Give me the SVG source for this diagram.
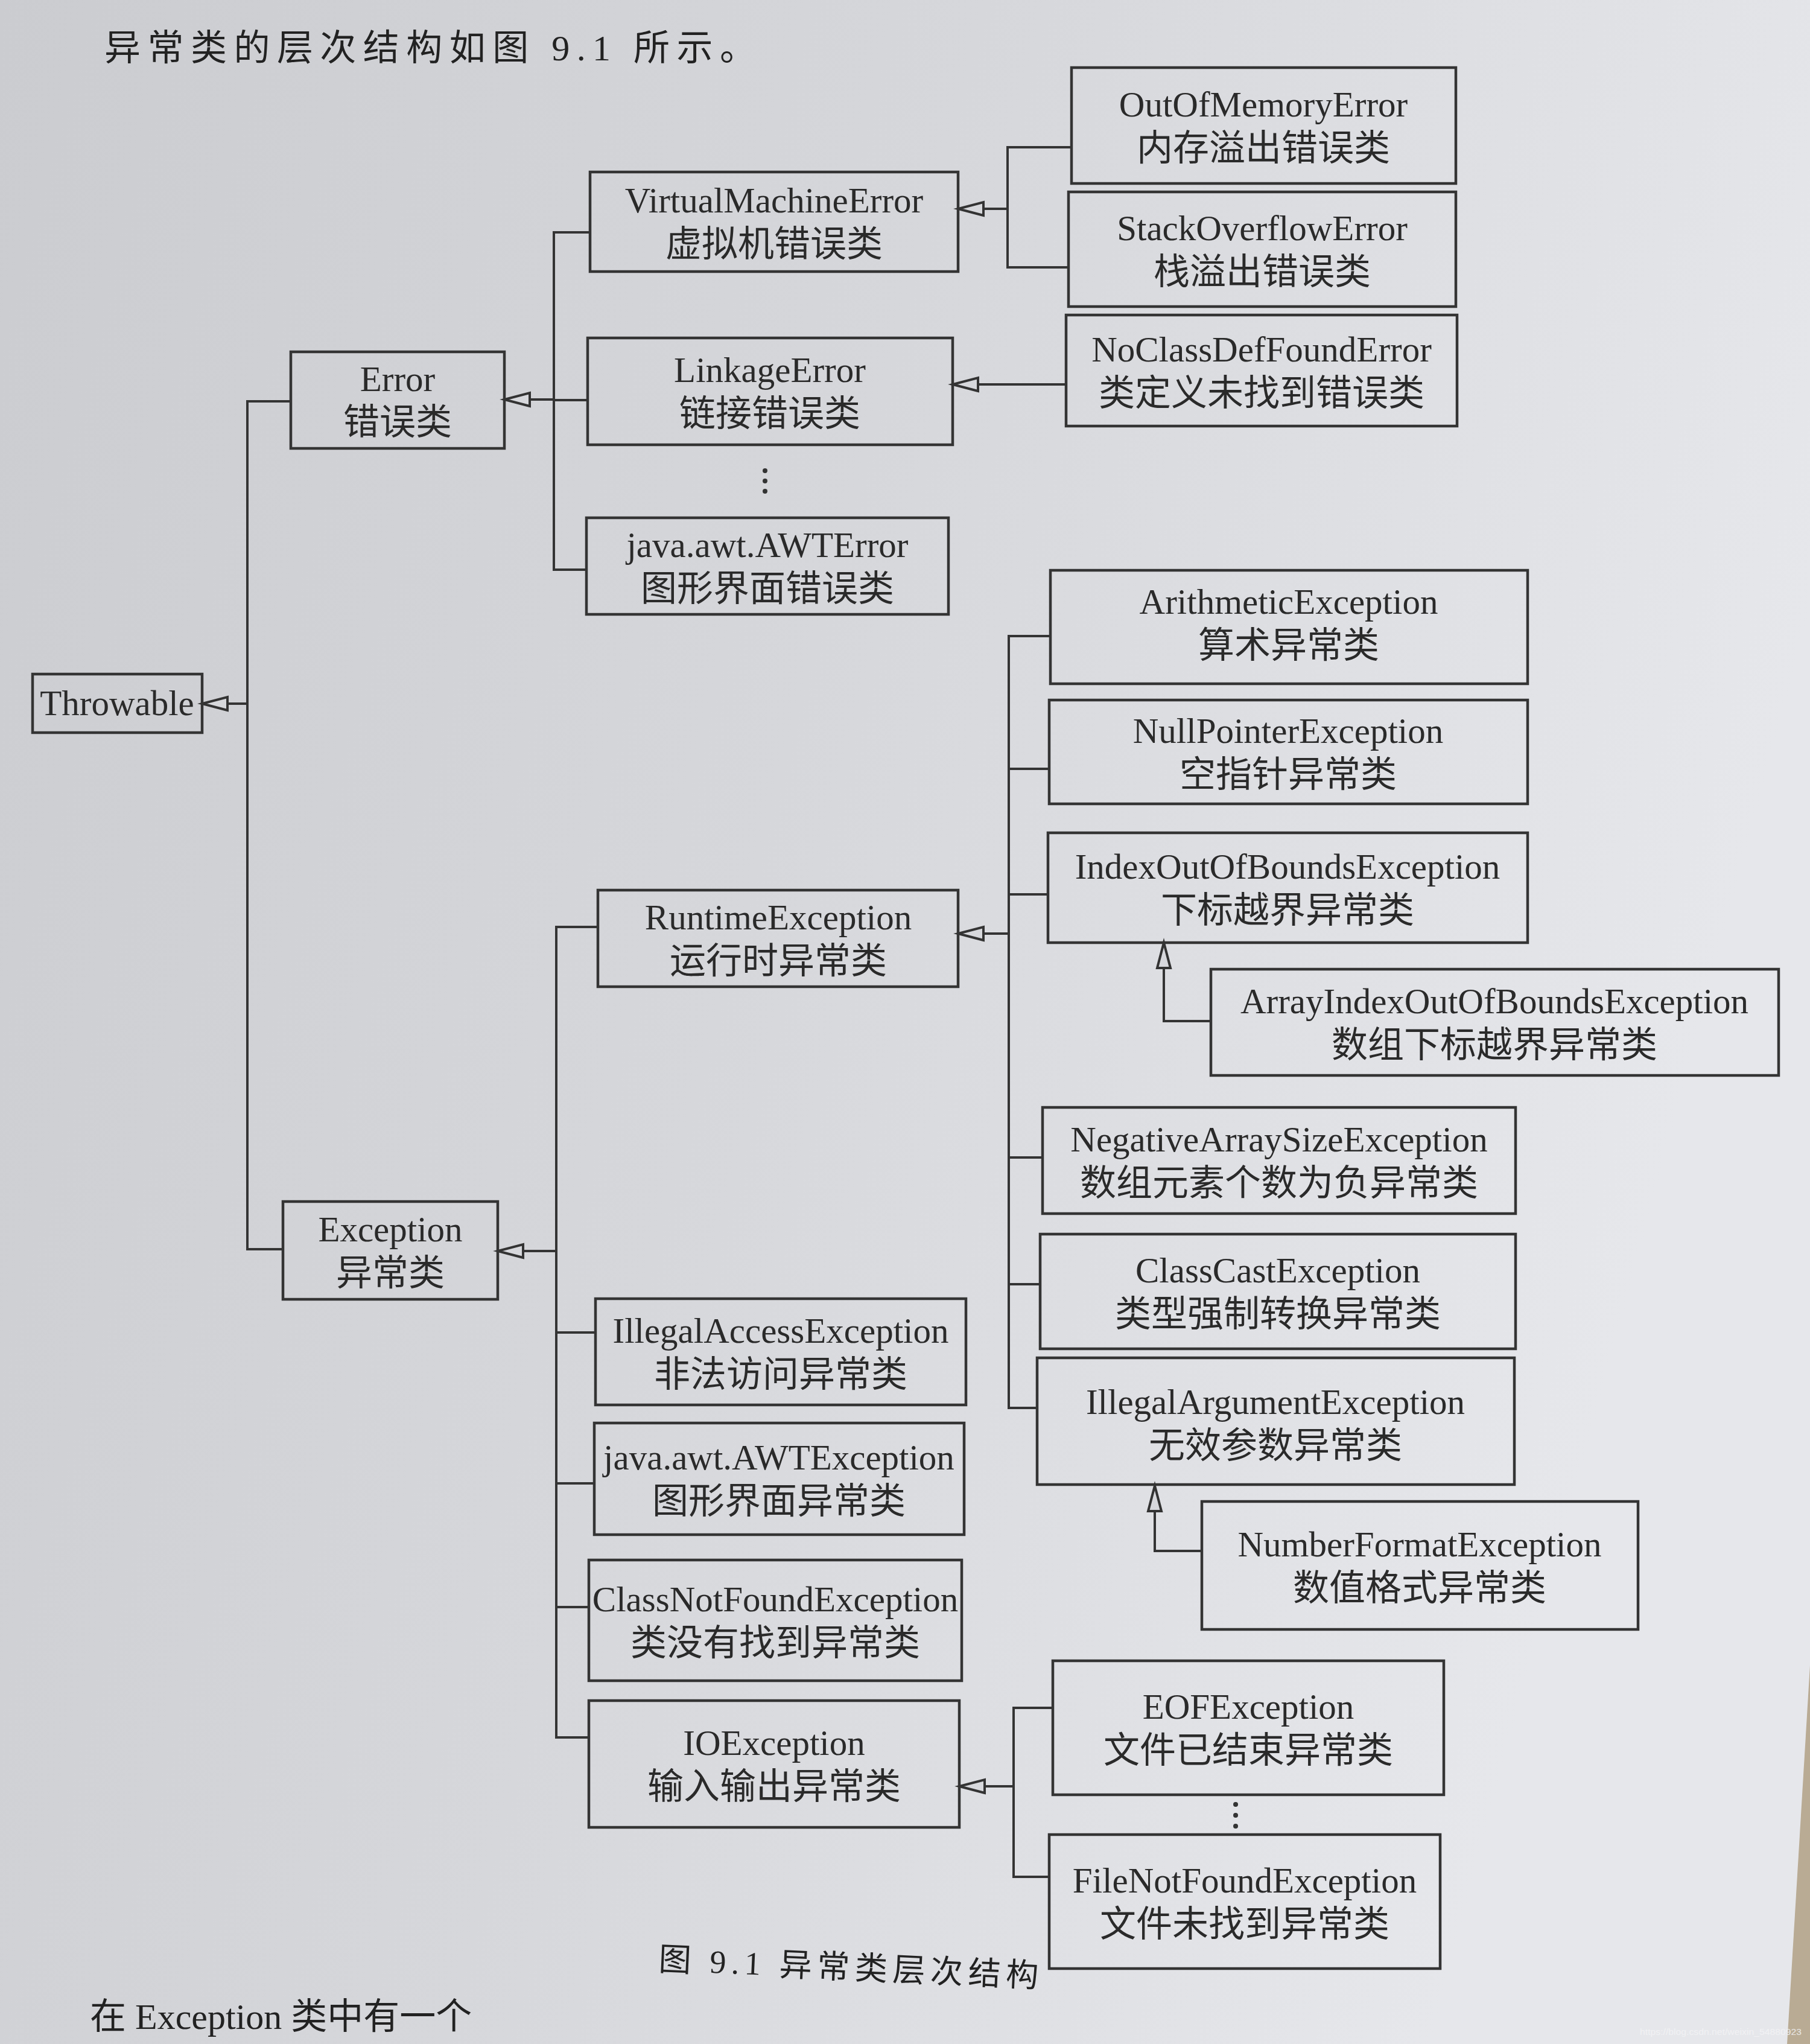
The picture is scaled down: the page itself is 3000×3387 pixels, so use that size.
<svg xmlns="http://www.w3.org/2000/svg" width="3000" height="3387" viewBox="0 0 3000 3387">
<defs>
<linearGradient id="bg" x1="0" y1="0" x2="1" y2="0.3">
<stop offset="0" stop-color="#cbccd0"/>
<stop offset="0.5" stop-color="#d6d7db"/>
<stop offset="1" stop-color="#e6e7eb"/>
</linearGradient>
<marker id="tri" markerWidth="50" markerHeight="30" refX="46" refY="15" orient="auto" markerUnits="userSpaceOnUse" overflow="visible">
<path d="M4,4 L46,15 L4,26 Z" fill="#d7d8dc" stroke="#333" stroke-width="4" stroke-linejoin="miter"/>
</marker>
<style>
.box{fill:none;stroke:#343434;stroke-width:4.5}
.c{fill:none;stroke:#343434;stroke-width:4}
.en{font-family:"Liberation Serif",serif;font-size:59px;text-anchor:middle;fill:#2a2a2a}
.zh{font-family:"Liberation Serif","Noto Sans CJK SC",sans-serif;font-size:60px;text-anchor:middle;fill:#2a2a2a}
.body{font-family:"Liberation Serif","Noto Sans CJK SC",serif;fill:#222}
.dot{fill:#333}
</style>
</defs>
<rect x="0" y="0" width="3000" height="3387" fill="url(#bg)"/>
<polygon points="3000,2760 3000,3387 2962,3387" fill="#b9ab94"/>

<text class="body" x="173" y="100" font-size="60" textLength="1080" lengthAdjust="spacing">异常类的层次结构如图 9.1 所示。</text>

<g id="connectors">
<!-- Throwable -->
<path class="c" d="M482,665 H410 V2070 H469"/>
<path class="c" d="M410,1166 H335" marker-end="url(#tri)"/>
<!-- Error -->
<path class="c" d="M978,385 H918 V944 H972 M918,663 H974"/>
<path class="c" d="M918,662 H836" marker-end="url(#tri)"/>
<!-- VirtualMachineError -->
<path class="c" d="M1776,244 H1670 V443 H1771"/>
<path class="c" d="M1670,346 H1588" marker-end="url(#tri)"/>
<!-- LinkageError -->
<path class="c" d="M1767,637 H1579" marker-end="url(#tri)"/>
<!-- Exception -->
<path class="c" d="M991,1536 H922 V2879 H976 M922,2208 H987 M922,2458 H985 M922,2663 H976"/>
<path class="c" d="M922,2073 H825" marker-end="url(#tri)"/>
<!-- RuntimeException -->
<path class="c" d="M1741,1054 H1672 V2333 H1719 M1672,1274 H1739 M1672,1482 H1737 M1672,1918 H1728 M1672,2128 H1724"/>
<path class="c" d="M1672,1547 H1588" marker-end="url(#tri)"/>
<!-- IndexOutOfBounds -->
<path class="c" d="M2007,1692 H1929 V1562" marker-end="url(#tri)"/>
<!-- IllegalArgument -->
<path class="c" d="M1992,2570 H1914 V2462" marker-end="url(#tri)"/>
<!-- IOException -->
<path class="c" d="M1745,2830 H1680 V3110 H1739"/>
<path class="c" d="M1680,2960 H1590" marker-end="url(#tri)"/>
</g>

<g id="n-throwable"><rect class="box" x="54" y="1117" width="281" height="97"/><text class="en" x="194" y="1185">Throwable</text></g>
<g id="n-error"><rect class="box" x="482" y="583" width="354" height="160"/><text class="en" x="659" y="648">Error</text><text class="zh" x="659" y="720">错误类</text></g>
<g id="n-exception"><rect class="box" x="469" y="1991" width="356" height="162"/><text class="en" x="647" y="2057">Exception</text><text class="zh" x="647" y="2130">异常类</text></g>

<g id="n-vme"><rect class="box" x="978" y="285" width="610" height="165"/><text class="en" x="1283" y="352">VirtualMachineError</text><text class="zh" x="1283" y="425">虚拟机错误类</text></g>
<g id="n-linkage"><rect class="box" x="974" y="560" width="605" height="177"/><text class="en" x="1276" y="633">LinkageError</text><text class="zh" x="1276" y="706">链接错误类</text></g>
<circle class="dot" cx="1268" cy="780" r="4"/><circle class="dot" cx="1268" cy="797" r="4"/><circle class="dot" cx="1268" cy="814" r="4"/>
<g id="n-awterror"><rect class="box" x="972" y="858" width="600" height="160"/><text class="en" x="1272" y="923">java.awt.AWTError</text><text class="zh" x="1272" y="996">图形界面错误类</text></g>

<g id="n-oom"><rect class="box" x="1776" y="112" width="637" height="192"/><text class="en" x="2094" y="193">OutOfMemoryError</text><text class="zh" x="2094" y="266">内存溢出错误类</text></g>
<g id="n-soe"><rect class="box" x="1771" y="318" width="642" height="190"/><text class="en" x="2092" y="398">StackOverflowError</text><text class="zh" x="2092" y="471">栈溢出错误类</text></g>
<g id="n-ncdf"><rect class="box" x="1767" y="522" width="648" height="184"/><text class="en" x="2091" y="599">NoClassDefFoundError</text><text class="zh" x="2091" y="672">类定义未找到错误类</text></g>

<g id="n-runtime"><rect class="box" x="991" y="1475" width="597" height="160"/><text class="en" x="1290" y="1540">RuntimeException</text><text class="zh" x="1290" y="1613">运行时异常类</text></g>
<g id="n-arith"><rect class="box" x="1741" y="945" width="791" height="188"/><text class="en" x="2136" y="1017">ArithmeticException</text><text class="zh" x="2136" y="1090">算术异常类</text></g>
<g id="n-npe"><rect class="box" x="1739" y="1160" width="793" height="172"/><text class="en" x="2135" y="1231">NullPointerException</text><text class="zh" x="2135" y="1304">空指针异常类</text></g>
<g id="n-ioobe"><rect class="box" x="1737" y="1380" width="795" height="182"/><text class="en" x="2134" y="1456">IndexOutOfBoundsException</text><text class="zh" x="2134" y="1529">下标越界异常类</text></g>
<g id="n-aioobe"><rect class="box" x="2007" y="1606" width="941" height="176"/><text class="en" x="2477" y="1679">ArrayIndexOutOfBoundsException</text><text class="zh" x="2477" y="1752">数组下标越界异常类</text></g>
<g id="n-nase"><rect class="box" x="1728" y="1835" width="784" height="176"/><text class="en" x="2120" y="1908">NegativeArraySizeException</text><text class="zh" x="2120" y="1981">数组元素个数为负异常类</text></g>
<g id="n-cce"><rect class="box" x="1724" y="2045" width="788" height="190"/><text class="en" x="2118" y="2125">ClassCastException</text><text class="zh" x="2118" y="2198">类型强制转换异常类</text></g>
<g id="n-iae"><rect class="box" x="1719" y="2250" width="791" height="210"/><text class="en" x="2114" y="2343">IllegalArgumentException</text><text class="zh" x="2114" y="2416">无效参数异常类</text></g>
<g id="n-nfe"><rect class="box" x="1992" y="2488" width="723" height="212"/><text class="en" x="2353" y="2579">NumberFormatException</text><text class="zh" x="2353" y="2652">数值格式异常类</text></g>

<g id="n-iacc"><rect class="box" x="987" y="2152" width="614" height="176"/><text class="en" x="1294" y="2225">IllegalAccessException</text><text class="zh" x="1294" y="2298">非法访问异常类</text></g>
<g id="n-awtexc"><rect class="box" x="985" y="2358" width="613" height="185"/><text class="en" x="1291" y="2435">java.awt.AWTException</text><text class="zh" x="1291" y="2508">图形界面异常类</text></g>
<g id="n-cnfe"><rect class="box" x="976" y="2585" width="618" height="200"/><text class="en" x="1285" y="2670">ClassNotFoundException</text><text class="zh" x="1285" y="2743">类没有找到异常类</text></g>
<g id="n-io"><rect class="box" x="976" y="2818" width="614" height="210"/><text class="en" x="1283" y="2908">IOException</text><text class="zh" x="1283" y="2981">输入输出异常类</text></g>
<g id="n-eof"><rect class="box" x="1745" y="2752" width="648" height="222"/><text class="en" x="2069" y="2848">EOFException</text><text class="zh" x="2069" y="2921">文件已结束异常类</text></g>
<circle class="dot" cx="2048" cy="2990" r="4"/><circle class="dot" cx="2048" cy="3008" r="4"/><circle class="dot" cx="2048" cy="3026" r="4"/>
<g id="n-fnfe"><rect class="box" x="1739" y="3040" width="648" height="222"/><text class="en" x="2063" y="3136">FileNotFoundException</text><text class="zh" x="2063" y="3209">文件未找到异常类</text></g>

<text class="body" x="1091" y="3265" font-size="54" textLength="630" lengthAdjust="spacing" transform="rotate(2.5 1091 3265)">图 9.1  异常类层次结构</text>
<text class="body" x="149" y="3362" font-size="60">在 Exception 类中有一个</text>
<text x="2718" y="3372" font-family="'Liberation Sans',sans-serif" font-size="15" textLength="268" lengthAdjust="spacingAndGlyphs" fill="#f4f4f6" fill-opacity="0.85">https://blog.csdn.net/weixin_54880923</text>
</svg>
